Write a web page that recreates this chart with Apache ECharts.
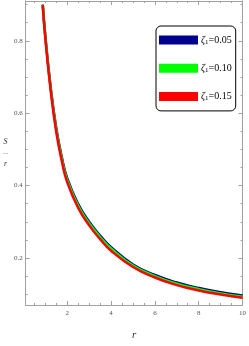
<!DOCTYPE html>
<html>
<head>
<meta charset="utf-8">
<script src="https://cdn.jsdelivr.net/npm/echarts@6/dist/echarts.min.js"></script>
<style>html,body{margin:0;padding:0;background:#fff;}#c{width:249px;height:346px;}</style>
</head>
<body>
<div id="c"></div>
<script>
const rValues = [0.88, 1.0, 1.25, 1.5, 1.75, 2, 2.5, 3, 3.5, 4, 5, 6, 7, 8, 9, 10];
const zeta005 = [0.900, 0.812, 0.668, 0.558, 0.479, 0.420, 0.349, 0.300, 0.262, 0.230, 0.182, 0.153, 0.132, 0.117, 0.105, 0.096];
const zeta010 = [0.900, 0.810, 0.664, 0.553, 0.474, 0.415, 0.344, 0.296, 0.258, 0.226, 0.179, 0.150, 0.129, 0.114, 0.102, 0.093];
const zeta015 = [0.899, 0.807, 0.659, 0.547, 0.468, 0.409, 0.338, 0.290, 0.252, 0.220, 0.175, 0.146, 0.125, 0.110, 0.099, 0.090];
const seriesNames = ['0.05', '0.10', '0.15'];
const xMajorTicks = [2, 4, 6, 8, 10];
const xMinorTicks = [0.5, 1, 1.5, 2.5, 3, 3.5, 4.5, 5, 5.5, 6.5, 7, 7.5, 8.5, 9, 9.5];
const yMajorTicks = [0.2, 0.4, 0.6, 0.8];
const yMinorTicks = [0.1, 0.15, 0.25, 0.3, 0.35, 0.45, 0.5, 0.55, 0.65, 0.7, 0.75, 0.85, 0.9];

const colors = ['#00008f', '#00ff00', '#ff0000'];
const allSeries = [zeta005, zeta010, zeta015];
const X_MIN = 0.1, X_MAX = 10, Y_MIN = 0.07, Y_MAX = 0.91;
const frameColor = '#a0a0a0';
const labelColor = '#555';
const font = 'Liberation Serif';

function xAx(pos, ticks, len, labels, extra) {
  return Object.assign({
    type: 'value', position: pos, min: X_MIN, max: X_MAX,
    axisLine: { show: true, onZero: false, lineStyle: { color: frameColor, width: 1 } },
    splitLine: { show: false },
    axisTick: { show: true, inside: true, length: len, customValues: ticks, lineStyle: { color: frameColor } },
    axisLabel: labels ? { show: true, customValues: ticks, color: labelColor, fontFamily: font, fontSize: 7, margin: 5 } : { show: false }
  }, extra || {});
}
function yAx(pos, ticks, len, labels, extra) {
  return Object.assign({
    type: 'value', position: pos, min: Y_MIN, max: Y_MAX,
    axisLine: { show: true, onZero: false, lineStyle: { color: frameColor, width: 1 } },
    splitLine: { show: false },
    axisTick: { show: true, inside: true, length: len, customValues: ticks, lineStyle: { color: frameColor } },
    axisLabel: labels ? { show: true, customValues: ticks, color: labelColor, fontFamily: font, fontSize: 7, margin: 3, formatter: v => v.toFixed(1) } : { show: false }
  }, extra || {});
}

const chart = echarts.init(document.getElementById('c'), null, { renderer: 'canvas' });
chart.setOption({
  animation: false,
  backgroundColor: '#fff',
  grid: { left: 15, right: 4, top: 1, bottom: 34, containLabel: false },
  xAxis: [
    xAx('bottom', xMajorTicks, 4, true, {
      name: 'r', nameLocation: 'middle', nameGap: 25,
      nameTextStyle: { fontFamily: font, fontStyle: 'italic', fontSize: 11, color: '#333' }
    }),
    xAx('bottom', xMinorTicks, 2, false),
    xAx('top', xMajorTicks, 4, false),
    xAx('top', xMinorTicks, 2, false)
  ],
  yAxis: [
    yAx('left', yMajorTicks, 4, true, {
      name: '{a|S}\n{b|—}\n{a|r}', nameLocation: 'middle', nameGap: 12, nameRotate: 0,
      nameTextStyle: { rich: {
        a: { fontFamily: font, fontStyle: 'italic', fontSize: 8, color: '#333', lineHeight: 11, align: 'center' },
        b: { fontFamily: font, fontSize: 5, color: '#333', lineHeight: 11, align: 'center' }
      } }
    }),
    yAx('left', yMinorTicks, 2, false),
    yAx('right', yMajorTicks, 4, false),
    yAx('right', yMinorTicks, 2, false)
  ],
  legend: {
    show: true, orient: 'vertical', left: 156, top: 26,
    padding: [9, 4, 9, 3],
    itemWidth: 39, itemHeight: 9, itemGap: 17.7,
    borderColor: '#000', borderWidth: 1, borderRadius: 5,
    backgroundColor: '#fff',
    icon: 'rect',
    data: seriesNames.map((n, i) => ({ name: n, icon: 'rect', itemStyle: { color: colors[i] } })),
    formatter: n => '{z|ζ}{s|1}{n|=' + n + '}',
    textStyle: {
      padding: [0, 0, 0, -2],
      rich: {
        z: { fontFamily: font, fontStyle: 'italic', fontSize: 10, color: '#000' },
        s: { fontFamily: font, fontSize: 7, color: '#000', verticalAlign: 'bottom', padding: [4, 0, 0, 0] },
        n: { fontFamily: font, fontSize: 10, color: '#000' }
      }
    }
  },
  series: allSeries.map((vals, i) => ({
    name: seriesNames[i], type: 'line', xAxisIndex: 0, yAxisIndex: 0,
    smooth: true, showSymbol: false, symbol: 'none',
    lineStyle: { color: colors[i], width: 2.5 },
    itemStyle: { color: colors[i] },
    data: rValues.map((r, k) => [r, vals[k]])
  }))
});
</script>
</body>
</html>
